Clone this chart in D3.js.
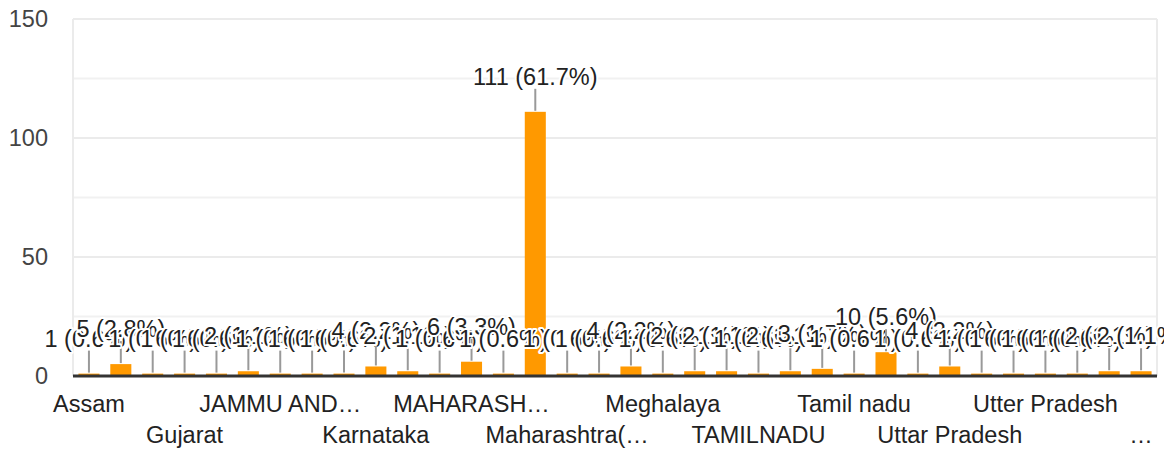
<!DOCTYPE html>
<html>
<head>
<meta charset="utf-8">
<script src="https://d3js.org/d3.v7.min.js"></script>
<style>
  body { margin: 0; background: #fff; }
  svg text { font-family: "Liberation Sans", Arial, sans-serif; }
</style>
</head>
<body>
<svg id="chart" width="1164" height="455"></svg>
<script>
// responses per state (sorted like the form summary)
var states = ["Assam", "Bihar", "Delhi", "Gujarat", "Haryana", "Himachal Pradesh",
  "JAMMU AND KASHMIR", "Jharkhand", "KARNATAKA", "Karnataka", "Kerala", "MADHYA PRADESH",
  "MAHARASHTRA", "Madhya Pradesh", "Maharashtra", "Maharashtra(Mumbai)", "Maharastra", "Manipur",
  "Meghalaya", "Odisha", "Rajasthan", "TAMILNADU", "Tamil Nadu", "Tamilnadu",
  "Tamil nadu", "Telangana", "Tripura", "Uttar Pradesh", "Uttarakhand", "Uttar pradesh",
  "Utter Pradesh", "WEST BENGAL", "West Bengal", "West Bengal (Kolkata)"];
var counts = [1, 5, 1, 1, 1, 2,
  1, 1, 1, 4, 2, 1,
  6, 1, 111, 1, 1, 4,
  1, 2, 2, 1, 2, 3,
  1, 10, 1, 4, 1, 1,
  1, 1, 2, 2];
var yTicks = [0, 50, 100, 150];
var yMinor = [25, 75, 125];

var total = d3.sum(counts);
var svg = d3.select('#chart'),
    width = +svg.attr('width');

var plotL = 73, plotR = 1157, plotT = 19, plotB = 376;
var fs = '23.5px';

var x = d3.scaleBand()
  .domain(states)
  .range([plotL, plotR])
  .paddingInner(0.34)
  .paddingOuter(0.17);

var y = d3.scaleLinear()
  .domain([0, 150])
  .range([plotB, plotT]);

// gridlines
svg.append('g').selectAll('line')
  .data(yMinor)
  .enter().append('line')
    .attr('x1', plotL).attr('x2', plotR)
    .attr('y1', function(d){ return y(d); })
    .attr('y2', function(d){ return y(d); })
    .style('stroke', '#f1f1f1').style('stroke-width', 2);

svg.append('g').selectAll('line')
  .data(yTicks.filter(function(d){ return d > 0; }))
  .enter().append('line')
    .attr('x1', plotL).attr('x2', plotR)
    .attr('y1', function(d){ return y(d); })
    .attr('y2', function(d){ return y(d); })
    .style('stroke', '#ebebeb').style('stroke-width', 2);

svg.append('line').attr('x1', plotL).attr('x2', plotL).attr('y1', y(150)).attr('y2', plotB)
  .style('stroke', '#ebebeb').style('stroke-width', 2);
svg.append('line').attr('x1', plotR).attr('x2', plotR).attr('y1', y(150)).attr('y2', plotB)
  .style('stroke', '#ebebeb').style('stroke-width', 2);

// y labels
svg.append('g').selectAll('text')
  .data(yTicks)
  .enter().append('text')
    .attr('x', 48)
    .attr('y', function(d){ return y(d); })
    .attr('dy', '0.36em')
    .attr('text-anchor', 'end')
    .style('font-size', fs)
    .style('fill', '#444')
    .text(function(d){ return d; });

// bars
svg.append('g').selectAll('rect')
  .data(counts)
  .enter().append('rect')
    .attr('x', function(d, i){ return x(states[i]); })
    .attr('y', function(d){ return y(d); })
    .attr('width', x.bandwidth())
    .attr('height', function(d){ return plotB - y(d); })
    .style('fill', '#ff9900');

// baseline
svg.append('line').attr('x1', plotL).attr('x2', plotR).attr('y1', plotB).attr('y2', plotB)
  .style('stroke', '#333').style('stroke-width', 3);

// annotations: stem + label
var stem = 23;
var ann = svg.append('g').selectAll('g')
  .data(counts)
  .enter().append('g');

ann.append('line')
  .attr('x1', function(d, i){ return x(states[i]) + x.bandwidth() / 2; })
  .attr('x2', function(d, i){ return x(states[i]) + x.bandwidth() / 2; })
  .attr('y1', function(d){ return y(d) - 1; })
  .attr('y2', function(d){ return y(d) - stem; })
  .style('stroke', '#999').style('stroke-width', 2);

ann.append('text')
  .attr('x', function(d, i){ return x(states[i]) + x.bandwidth() / 2; })
  .attr('y', function(d){ return y(d) - stem - 4; })
  .attr('text-anchor', 'middle')
  .style('font-size', fs)
  .style('fill', '#222')
  .style('stroke', '#fff')
  .style('stroke-width', 4)
  .style('paint-order', 'stroke')
  .style('stroke-linejoin', 'round')
  .text(function(d){ return d + ' (' + (d / total * 100).toFixed(1) + '%)'; });

// x labels: every third category, alternating rows
var shown = states.filter(function(d, i){ return i % 3 === 0; });
svg.append('g').selectAll('text')
  .data(shown)
  .enter().append('text')
    .attr('x', function(d){ return x(d) + x.bandwidth() / 2; })
    .attr('y', function(d, i){ return i % 2 === 0 ? 412 : 443; })
    .attr('text-anchor', 'middle')
    .style('font-size', fs)
    .style('fill', '#222')
    .text(function(d){ return d; })
    .each(function(d){
      var el = d3.select(this);
      var cx = x(d) + x.bandwidth() / 2;
      var maxW = Math.min(168, 2 * (width - cx - 2));
      if (this.getComputedTextLength() <= maxW) return;
      var s = d;
      while (s.length > 0) {
        s = s.slice(0, -1);
        el.text(s.trim() + '…');
        if (this.getComputedTextLength() <= maxW) break;
      }
      if (s.length === 0) el.text('…');
    });
</script>
</body>
</html>
